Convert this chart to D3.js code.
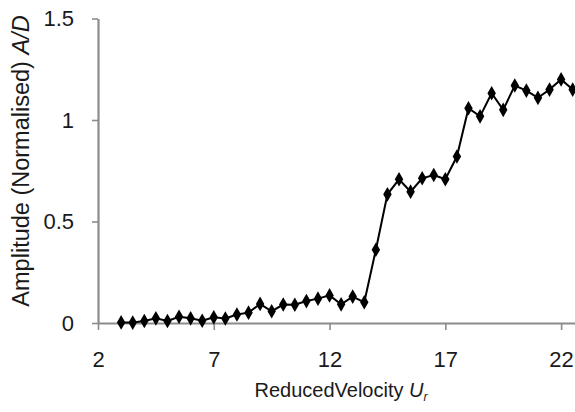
<!DOCTYPE html>
<html><head><meta charset="utf-8">
<script src="https://cdn.jsdelivr.net/npm/d3@7"></script>
<style>
html,body{margin:0;padding:0;background:#fff;}
svg{display:block;}
text{font-family:"Liberation Sans",Arial,sans-serif;fill:#1a1a1a;}
</style></head>
<body>
<svg id="chart" width="575" height="412"></svg>
<script>
const velocity = [3,3.5,4,4.5,5,5.5,6,6.5,7,7.5,8,8.5,9,9.5,10,10.5,11,11.5,12,12.5,13,13.5,14,14.5,15,15.5,16,16.5,17,17.5,18,18.5,19,19.5,20,20.5,21,21.5,22,22.5];
const amplitude = [0.003,0.002,0.01,0.023,0.01,0.031,0.023,0.011,0.028,0.022,0.042,0.051,0.094,0.058,0.091,0.09,0.108,0.12,0.136,0.092,0.13,0.102,0.361,0.634,0.708,0.647,0.713,0.729,0.708,0.82,1.058,1.018,1.132,1.05,1.17,1.145,1.109,1.15,1.2,1.15];
const xTicks = [2,7,12,17,22];
const yTicks = [0,0.5,1,1.5];
const yTickLabels = ["0","0.5","1","1.5"];

const svg = d3.select("#chart");
const x = d3.scaleLinear().domain([2,22.6]).range([98,575]);
const y = d3.scaleLinear().domain([0,1.5]).range([323,18.5]);
const axisColor = "#8c8c8c";

// x axis
const gx = svg.append("g").attr("transform","translate(0,323)")
  .call(d3.axisBottom(x).tickValues(xTicks).tickSize(7).tickSizeOuter(0).tickPadding(21).tickFormat(d3.format("d")));
gx.select(".domain").attr("stroke",axisColor).attr("stroke-width",2.2);
gx.selectAll(".tick line").attr("stroke",axisColor).attr("stroke-width",1.6);
gx.selectAll(".tick text").attr("font-size",22).attr("fill","#1a1a1a").attr("font-family","Liberation Sans, Arial, sans-serif");

// y axis
const gy = svg.append("g").attr("transform","translate(98,0)")
  .call(d3.axisLeft(y).tickValues(yTicks).tickSize(6).tickSizeOuter(0).tickPadding(18).tickFormat((d,i)=>yTickLabels[i]));
gy.select(".domain").attr("stroke",axisColor).attr("stroke-width",2.2);
gy.selectAll(".tick line").attr("stroke",axisColor).attr("stroke-width",1.6);
gy.selectAll(".tick text").attr("font-size",22).attr("fill","#1a1a1a").attr("font-family","Liberation Sans, Arial, sans-serif");

// line
const data = velocity.map((v,i)=>({u:v,a:amplitude[i]}));
svg.append("path").datum(data)
  .attr("fill","none").attr("stroke","#000").attr("stroke-width",2)
  .attr("d", d3.line().x(d=>x(d.u)).y(d=>y(d.a)));

const sym = d3.symbol().type(d3.symbolDiamond).size(62);
svg.append("g").selectAll("path").data(data).join("path")
  .attr("transform",d=>`translate(${x(d.u)},${y(d.a)})`)
  .attr("d",sym).attr("fill","#000");

// axis titles
const xt = svg.append("text").attr("x",341).attr("y",397).attr("text-anchor","middle").attr("font-size",20);
xt.append("tspan").text("ReducedVelocity ");
xt.append("tspan").attr("font-style","italic").text("U");
xt.append("tspan").attr("font-style","italic").attr("font-size",12).attr("dy",4).text("r");

const yt = svg.append("text").attr("transform","translate(29,161) rotate(-90)").attr("text-anchor","middle").attr("font-size",23.5);
yt.append("tspan").text("Amplitude (Normalised) ");
yt.append("tspan").attr("font-style","italic").text("A/D");
</script>
</body></html>
